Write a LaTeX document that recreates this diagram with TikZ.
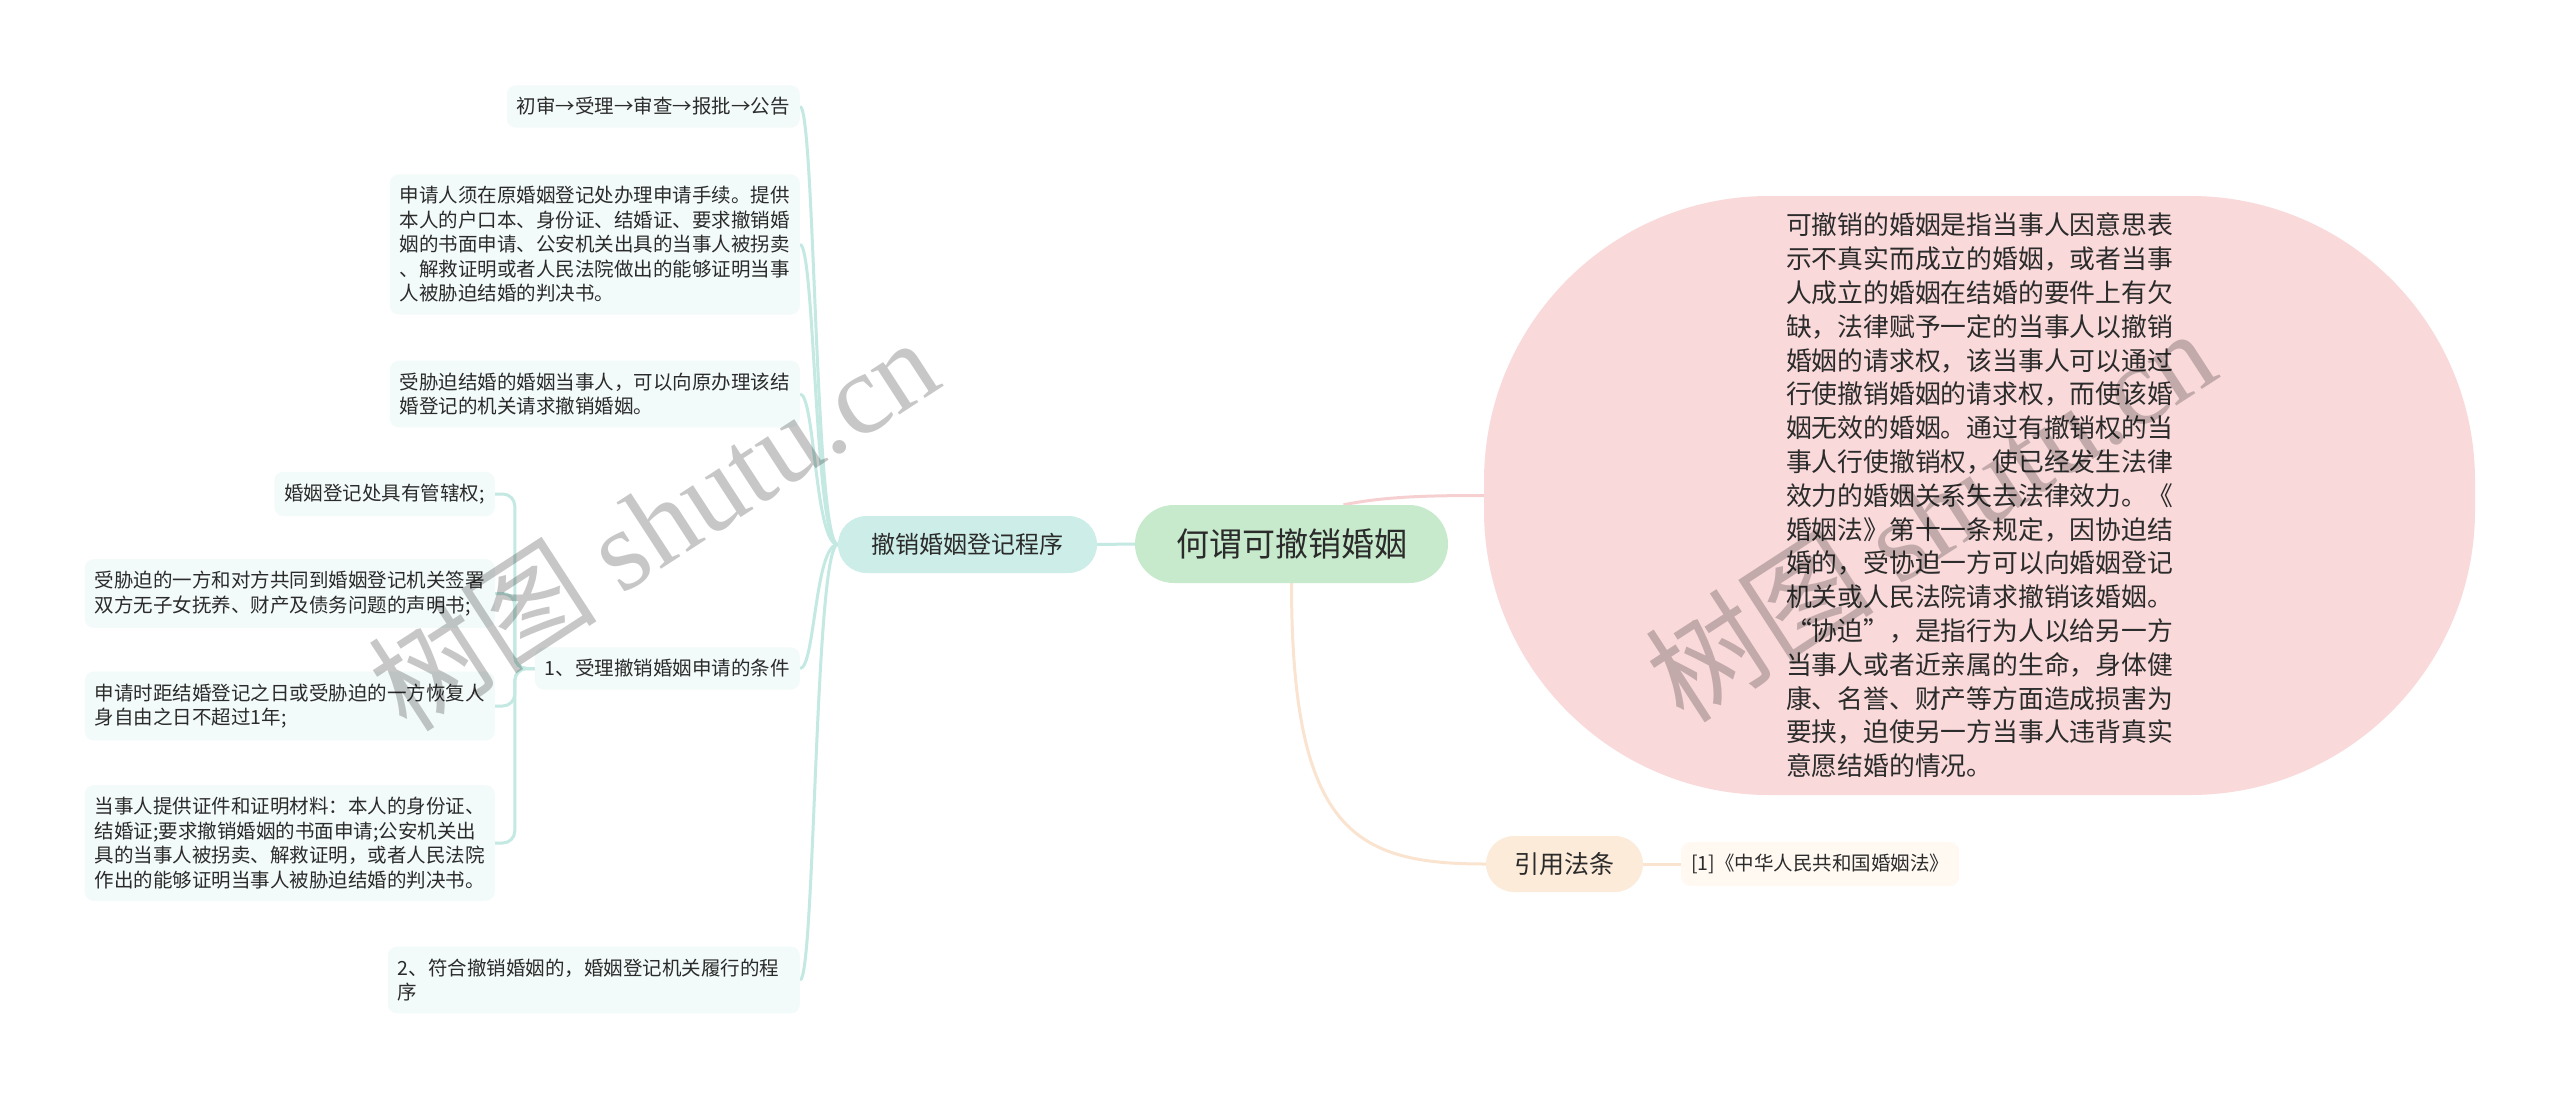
\documentclass[tikz,border=0pt]{standalone}
\usepackage{fontspec}
\setmainfont{Noto Sans CJK SC}
\newfontfamily\wmlatin{Liberation Serif}
\usetikzlibrary{backgrounds}
\definecolor{txt}{HTML}{2B2B2B}
\definecolor{rootfill}{HTML}{C6EACB}
\definecolor{tealfill}{HTML}{CDEEE8}
\definecolor{tealline}{HTML}{C3E9E2}
\definecolor{leaffill}{HTML}{F3FBFA}
\definecolor{pinkfill}{HTML}{F9D9DA}
\definecolor{pinkline}{HTML}{F6D0D1}
\definecolor{peachfill}{HTML}{FDEBDA}
\definecolor{peachline}{HTML}{FAE4CF}
\definecolor{reffill}{HTML}{FFF9F2}
\tikzset{
  base/.style={text=txt, inner sep=0pt},
  rootbox/.style={base, fill=rootfill, rounded corners=39, minimum width=313, minimum height=78, font=\fontsize{33}{38}\selectfont},
  mainbox/.style={base, fill=tealfill, rounded corners=28.5, minimum width=259, minimum height=57, font=\fontsize{24}{28}\selectfont},
  refbox/.style={base, fill=peachfill, rounded corners=28, minimum width=157, minimum height=56, font=\fontsize{25}{29}\selectfont},
  leaf/.style={base, fill=leaffill, rounded corners=9, inner xsep=10, inner ysep=12, align=left, font=\fontsize{19.5}{24.5}\selectfont},
  refleaf/.style={base, fill=reffill, rounded corners=9, inner xsep=10, inner ysep=12, align=left, font=\fontsize{19.5}{24.5}\selectfont},
  bigbox/.style={base, fill=pinkfill, rounded corners=285, minimum width=991, minimum height=599, align=left, font=\fontsize{25.8}{33.8}\selectfont},
  tline/.style={draw=tealline, line width=3},
  pline/.style={draw=pinkline, line width=3},
  kline/.style={draw=peachline, line width=3},
  wmark/.style={text=black, text opacity=0.22, rotate=33, inner sep=0pt, font=\fontsize{115}{120}\selectfont}
}
\begin{document}
\begin{tikzpicture}[x=1pt,y=-1pt]
\useasboundingbox (0,0) rectangle (2560,1100);

% main nodes
\node[rootbox] (root) at (1291.5,544) {何谓可撤销婚姻};
\node[mainbox] (s) at (967.5,544.5) {撤销婚姻登记程序};
\node[refbox] (ref) at (1564.5,864) {引用法条};
\node[refleaf, anchor=west] (ref1) at (1681,864) {[1]《中华人民共和国婚姻法》};
\node[bigbox] (pink) at (1979.5,495.5) {可撤销的婚姻是指当事人因意思表\\示不真实而成立的婚姻，或者当事\\人成立的婚姻在结婚的要件上有欠\\缺，法律赋予一定的当事人以撤销\\婚姻的请求权，该当事人可以通过\\行使撤销婚姻的请求权，而使该婚\\姻无效的婚姻。通过有撤销权的当\\事人行使撤销权，使已经发生法律\\效力的婚姻关系失去法律效力。《\\婚姻法》第十一条规定，因协迫结\\婚的，受协迫一方可以向婚姻登记\\机关或人民法院请求撤销该婚姻。\\“协迫”，是指行为人以给另一方\\当事人或者近亲属的生命，身体健\\康、名誉、财产等方面造成损害为\\要挟，迫使另一方当事人违背真实\\意愿结婚的情况。};

% left branch children
\node[leaf, anchor=east] (a1) at (800,106.5) {初审→受理→审查→报批→公告};
\node[leaf, anchor=east] (a2) at (800,244.5) {申请人须在原婚姻登记处办理申请手续。提供\\本人的户口本、身份证、结婚证、要求撤销婚\\姻的书面申请、公安机关出具的当事人被拐卖\\、解救证明或者人民法院做出的能够证明当事\\人被胁迫结婚的判决书。};
\node[leaf, anchor=east] (a3) at (800,394) {受胁迫结婚的婚姻当事人，可以向原办理该结\\婚登记的机关请求撤销婚姻。};
\node[leaf, anchor=east] (c1) at (800,668.5) {1、受理撤销婚姻申请的条件};
\node[leaf, anchor=east, text width=392] (a5) at (800,980) {2、符合撤销婚姻的，婚姻登记机关履行的程\\序};

\node[leaf, anchor=east] (k1) at (495,494) {婚姻登记处具有管辖权;};
\node[leaf, anchor=east] (k2) at (495,593.5) {受胁迫的一方和对方共同到婚姻登记机关签署\\双方无子女抚养、财产及债务问题的声明书;};
\node[leaf, anchor=east] (k3) at (495,706) {申请时距结婚登记之日或受胁迫的一方恢复人\\身自由之日不超过1年;};
\node[leaf, anchor=east] (k4) at (495,843) {当事人提供证件和证明材料：本人的身份证、\\结婚证;要求撤销婚姻的书面申请;公安机关出\\具的当事人被拐卖、解救证明，或者人民法院\\作出的能够证明当事人被胁迫结婚的判决书。};

\begin{pgfonlayer}{background}
\fill[white] (0,0) rectangle (2560,1100);
\draw[tline] (root.west) -- (s.east);
\foreach \c in {a1,a2,a3,c1,a5}
  \draw[tline] (s.west) .. controls +(-23,0) and +(15,0) .. (\c.east);
\foreach \k in {k1,k2,k3,k4}
  \draw[tline, rounded corners=12] (c1.west) -- ++(-20,0) |- (\k.east);
\draw[pline] ([xshift=52]root.north) .. controls +(40,-8) and +(-60,0) .. (pink.west);
\draw[kline] (root.south) .. controls +(0,250) and +(-130,0) .. (ref.west);
\draw[kline] (ref.east) -- (ref1.west);
\end{pgfonlayer}

% watermarks
\node[wmark] (wm1) at (653,523) {树图 {\wmlatin shutu.cn}};
\node[wmark] (wm2) at (1930,514) {树图 {\wmlatin shutu.cn}};
\end{tikzpicture}
\end{document}
